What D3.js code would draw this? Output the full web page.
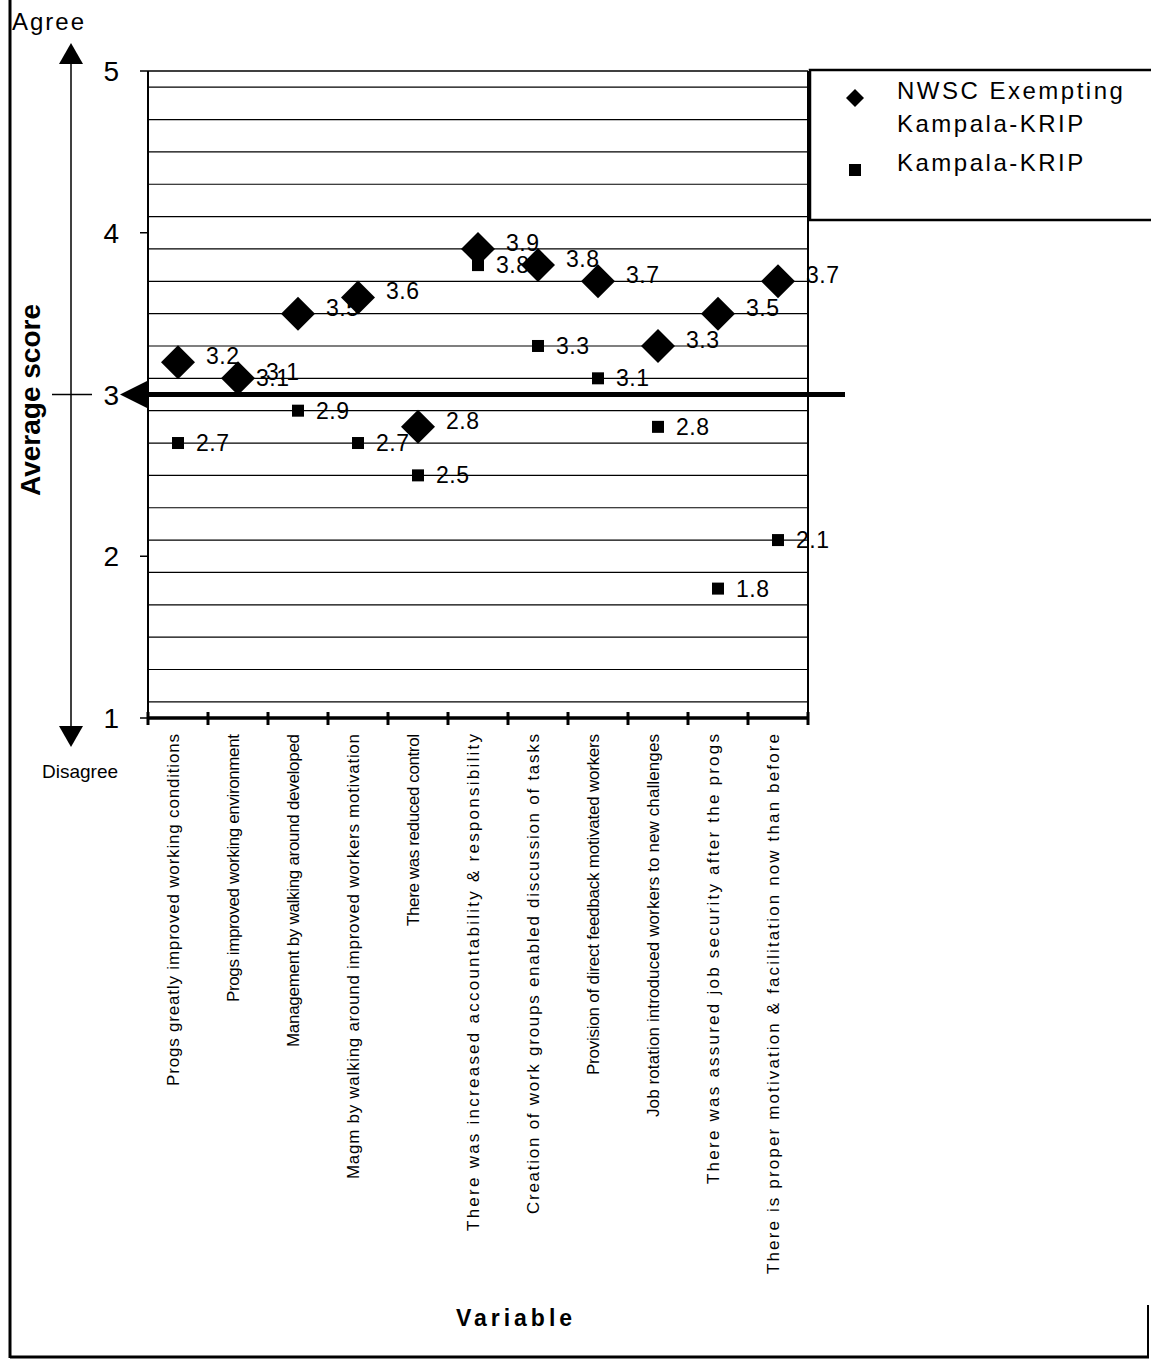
<!DOCTYPE html><html><head><meta charset="UTF-8"><script src="https://d3js.org/d3.v7.min.js"></script><style>
  body { margin: 0; background: #fff; }
  svg { display: block; font-family: "Liberation Sans", Arial, sans-serif; }
</style></head><body><div id="chart"></div><script>
const categories = [
  "Progs greatly improved working conditions",
  "Progs improved working environment",
  "Management by walking around developed",
  "Magm by walking around improved workers motivation",
  "There was reduced control",
  "There was increased accountability & responsibility",
  "Creation of work groups enabled discussion of tasks",
  "Provision of direct feedback motivated workers",
  "Job rotation introduced workers to new challenges",
  "There was assured job security after the progs",
  "There is proper motivation & facilitation now than before"
];
const nwsc = [3.2, 3.1, 3.5, 3.6, 2.8, 3.9, 3.8, 3.7, 3.3, 3.5, 3.7];
const krip = [2.7, 3.1, 2.9, 2.7, 2.5, 3.8, 3.3, 3.1, 2.8, 1.8, 2.1];
const yTicks = [1, 2, 3, 4, 5];
const seriesNames = ["NWSC Exempting\nKampala-KRIP", "Kampala-KRIP"];

// layout: printed length of each rotated category label (the scan spaces them unevenly)
const labelLengths = [352, 268, 313, 445, 192, 497, 480, 341, 383, 450, 540];

const W = 1151, H = 1360;
const plotLeft = 148, plotRight = 808, plotTop = 71, plotBottom = 718;

const svg = d3.select('#chart').append('svg').attr('width', W).attr('height', H);

const x = d3.scaleBand().domain(categories).range([plotLeft, plotRight]).padding(0);
const y = d3.scaleLinear().domain([1, 5]).range([plotBottom, plotTop]);

// frame
svg.append('line').attr('x1', 10).attr('x2', 10).attr('y1', 0).attr('y2', 1358).attr('stroke', '#000').attr('stroke-width', 3);
svg.append('line').attr('x1', 10).attr('x2', 1149).attr('y1', 1357).attr('y2', 1357).attr('stroke', '#000').attr('stroke-width', 3);
svg.append('line').attr('x1', 1148).attr('x2', 1148).attr('y1', 1305).attr('y2', 1358).attr('stroke', '#000').attr('stroke-width', 2);

// gridlines every 0.2
const grid = d3.range(11, 51, 2).map(v => v / 10);
svg.append('g').selectAll('line').data(grid).enter().append('line')
  .attr('x1', plotLeft).attr('x2', plotRight)
  .attr('y1', d => y(d)).attr('y2', d => y(d))
  .attr('stroke', '#000').attr('stroke-width', 1.2);

// plot border
svg.append('line').attr('x1', plotLeft).attr('x2', plotLeft).attr('y1', plotTop).attr('y2', plotBottom).attr('stroke', '#000').attr('stroke-width', 2);
svg.append('line').attr('x1', plotRight).attr('x2', plotRight).attr('y1', plotTop).attr('y2', plotBottom).attr('stroke', '#000').attr('stroke-width', 2);
svg.append('line').attr('x1', plotLeft).attr('x2', plotRight).attr('y1', plotTop).attr('y2', plotTop).attr('stroke', '#000').attr('stroke-width', 1.5);

// y axis ticks and labels
const yAxis = svg.append('g');
yAxis.selectAll('line').data(yTicks).enter().append('line')
  .attr('x1', plotLeft - 8).attr('x2', plotLeft).attr('y1', d => y(d)).attr('y2', d => y(d))
  .attr('stroke', '#000').attr('stroke-width', 1.5);
yAxis.selectAll('text').data(yTicks).enter().append('text')
  .attr('x', 119).attr('y', d => y(d) + 10).attr('text-anchor', 'end')
  .attr('font-size', 28).text(d => d);

// bottom axis
svg.append('line').attr('x1', plotLeft).attr('x2', plotRight).attr('y1', plotBottom).attr('y2', plotBottom).attr('stroke', '#000').attr('stroke-width', 3.5);
const bounds = categories.map(c => x(c)).concat([plotRight]);
svg.append('g').selectAll('line').data(bounds).enter().append('line')
  .attr('x1', d => d).attr('x2', d => d).attr('y1', plotBottom - 6).attr('y2', plotBottom + 7)
  .attr('stroke', '#000').attr('stroke-width', 3);

// category labels
svg.append('g').selectAll('text').data(categories).enter().append('text')
  .attr('transform', d => `translate(${x(d) + x.bandwidth() / 2 + 1},734) rotate(-90)`)
  .attr('text-anchor', 'end').attr('font-size', 17)
  .attr('textLength', (d, i) => labelLengths[i]).attr('lengthAdjust', 'spacing')
  .text(d => d);

// y = 3 reference line with arrowhead
svg.append('line').attr('x1', 125).attr('x2', 845).attr('y1', y(3)).attr('y2', y(3)).attr('stroke', '#000').attr('stroke-width', 5);
svg.append('path').attr('d', `M120,${y(3)} L148,${y(3) - 14} L148,${y(3) + 14} Z`).attr('fill', '#000');

// agree/disagree arrow
svg.append('line').attr('x1', 71).attr('x2', 71).attr('y1', 60).attr('y2', 730).attr('stroke', '#000').attr('stroke-width', 1.5);
svg.append('path').attr('d', 'M71,43 L59,64 L83,64 Z').attr('fill', '#000');
svg.append('path').attr('d', 'M71,747 L59,726 L83,726 Z').attr('fill', '#000');
svg.append('line').attr('x1', 52).attr('x2', 92).attr('y1', y(3)).attr('y2', y(3)).attr('stroke', '#000').attr('stroke-width', 1.5);
svg.append('text').attr('x', 12).attr('y', 30).attr('font-size', 24).attr('letter-spacing', 2).text('Agree');
svg.append('text').attr('x', 42).attr('y', 778).attr('font-size', 19).text('Disagree');

// axis titles
svg.append('text').attr('transform', 'translate(40,400) rotate(-90)').attr('text-anchor', 'middle')
  .attr('font-size', 28).attr('font-weight', 'bold').text('Average score');
svg.append('text').attr('x', 516).attr('y', 1326).attr('text-anchor', 'middle')
  .attr('font-size', 23).attr('font-weight', 'bold').attr('letter-spacing', 4).text('Variable');

const cx = i => x(categories[i]) + x.bandwidth() / 2;
const diamond = (s) => `M0,${-s} L${s},0 L0,${s} L${-s},0 Z`;

// KRIP squares
const sq = svg.append('g').selectAll('g').data(krip).enter().append('g')
  .attr('transform', (d, i) => `translate(${cx(i)},${y(d)})`);
sq.append('rect').attr('x', -6).attr('y', -6).attr('width', 12).attr('height', 12).attr('fill', '#000');
sq.append('text').attr('x', 18).attr('y', 8).attr('font-size', 23).attr('letter-spacing', 0.5).text(d => d.toFixed(1));

// NWSC diamonds
const dm = svg.append('g').selectAll('g').data(nwsc).enter().append('g')
  .attr('transform', (d, i) => `translate(${cx(i)},${y(d)})`);
dm.append('path').attr('d', diamond(17)).attr('fill', '#000');
dm.append('text').attr('x', 28).attr('y', 2).attr('font-size', 23).attr('letter-spacing', 0.5).text(d => d.toFixed(1));

// legend
svg.append('rect').attr('x', 810).attr('y', 70).attr('width', 345).attr('height', 150)
  .attr('fill', 'none').attr('stroke', '#000').attr('stroke-width', 2.5);
svg.append('path').attr('d', diamond(9)).attr('transform', 'translate(855,98)').attr('fill', '#000');
svg.append('rect').attr('x', 849).attr('y', 164).attr('width', 12).attr('height', 12).attr('fill', '#000');
const lt = svg.append('text').attr('x', 897).attr('y', 99).attr('font-size', 24).attr('letter-spacing', 2.5);
seriesNames[0].split('\n').forEach((t, i) => lt.append('tspan').attr('x', 897).attr('dy', i ? 33 : 0).text(t));
svg.append('text').attr('x', 897).attr('y', 171).attr('font-size', 24).attr('letter-spacing', 2.5).text(seriesNames[1]);
</script></body></html>
